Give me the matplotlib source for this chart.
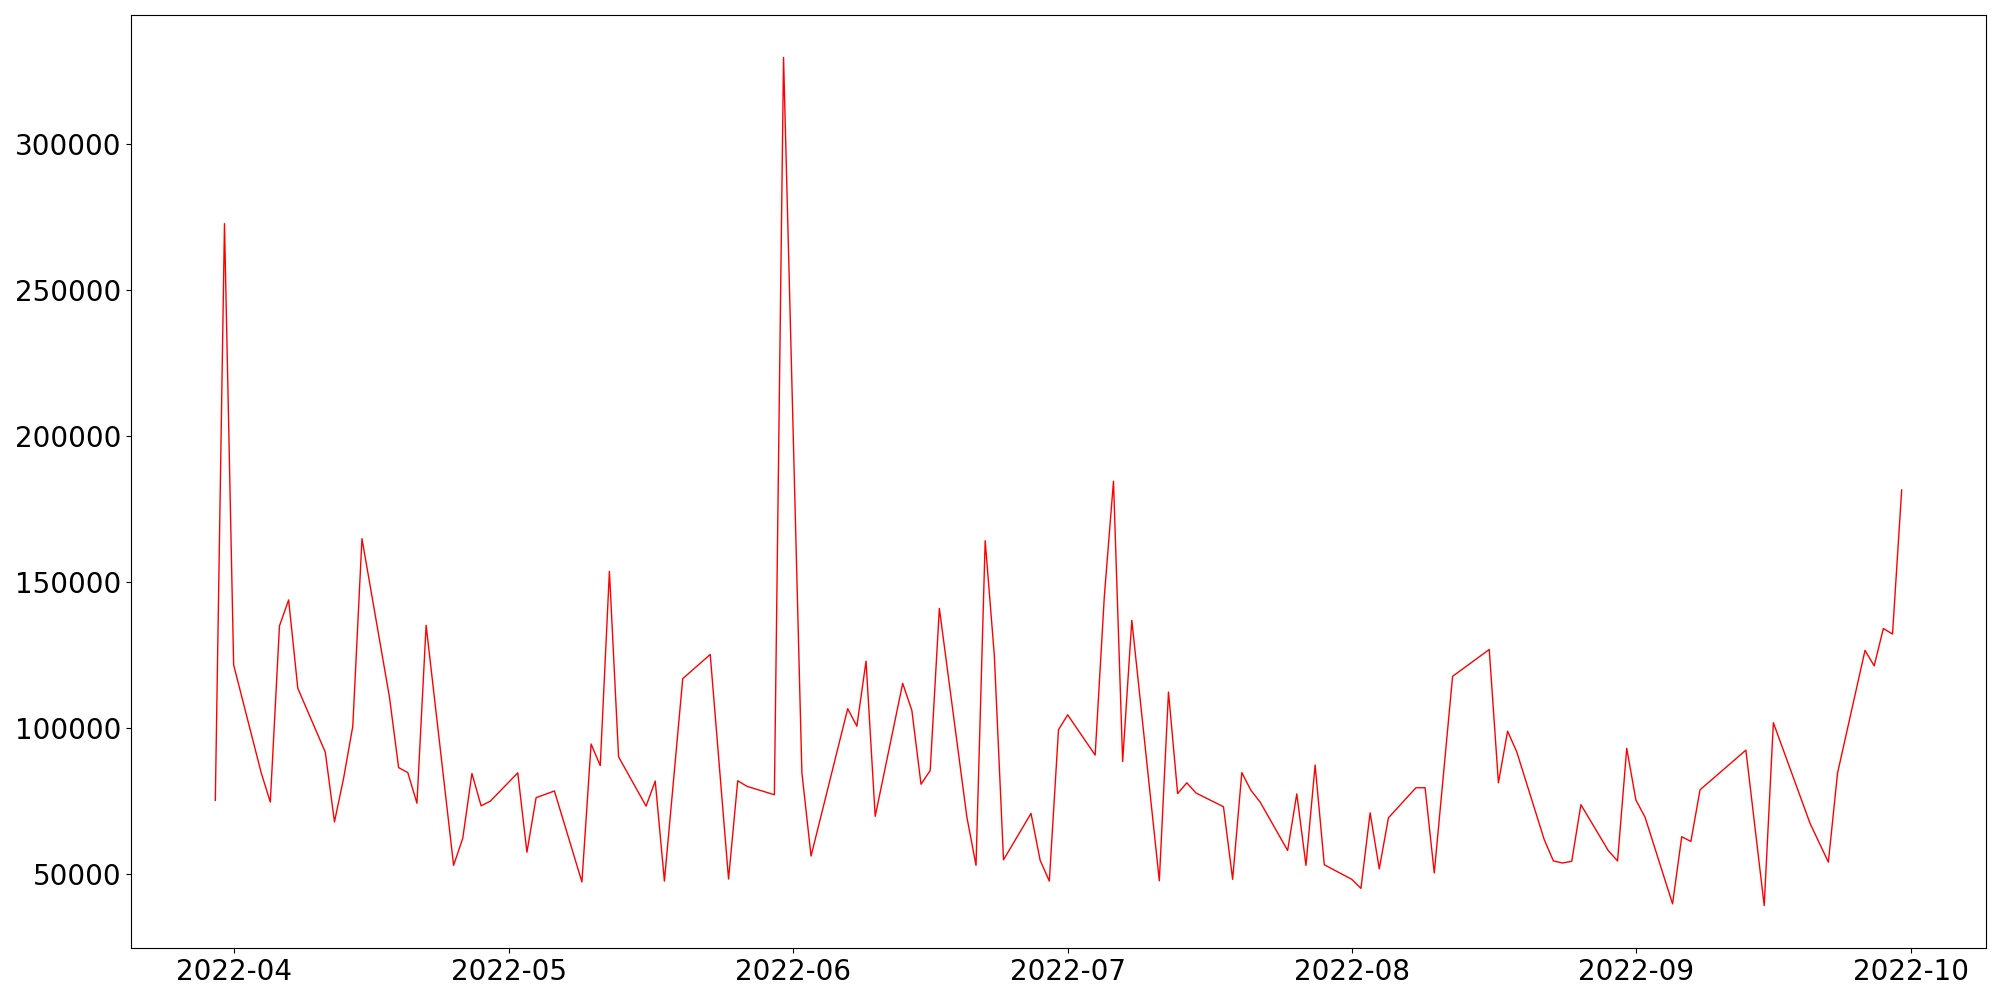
import matplotlib
matplotlib.use("Agg")
import matplotlib.pyplot as plt
import pandas as pd

dates = [
    "2022-03-30", "2022-03-31", "2022-04-01", "2022-04-04", "2022-04-05",
    "2022-04-06", "2022-04-07", "2022-04-08", "2022-04-11", "2022-04-12",
    "2022-04-13", "2022-04-14", "2022-04-15", "2022-04-18", "2022-04-19",
    "2022-04-20", "2022-04-21", "2022-04-22", "2022-04-25", "2022-04-26",
    "2022-04-27", "2022-04-28", "2022-04-29", "2022-05-02", "2022-05-03",
    "2022-05-04", "2022-05-06", "2022-05-09", "2022-05-10", "2022-05-11",
    "2022-05-12", "2022-05-13", "2022-05-16", "2022-05-17", "2022-05-18",
    "2022-05-20", "2022-05-23", "2022-05-25", "2022-05-26", "2022-05-27",
    "2022-05-30", "2022-05-31", "2022-06-02", "2022-06-03", "2022-06-07",
    "2022-06-08", "2022-06-09", "2022-06-10", "2022-06-13", "2022-06-14",
    "2022-06-15", "2022-06-16", "2022-06-17", "2022-06-20", "2022-06-21",
    "2022-06-22", "2022-06-23", "2022-06-24", "2022-06-27", "2022-06-28",
    "2022-06-29", "2022-06-30", "2022-07-01", "2022-07-04", "2022-07-05",
    "2022-07-06", "2022-07-07", "2022-07-08", "2022-07-11", "2022-07-12",
    "2022-07-13", "2022-07-14", "2022-07-15", "2022-07-18", "2022-07-19",
    "2022-07-20", "2022-07-21", "2022-07-22", "2022-07-25", "2022-07-26",
    "2022-07-27", "2022-07-28", "2022-07-29", "2022-08-01", "2022-08-02",
    "2022-08-03", "2022-08-04", "2022-08-05", "2022-08-08", "2022-08-09",
    "2022-08-10", "2022-08-12", "2022-08-16", "2022-08-17", "2022-08-18",
    "2022-08-19", "2022-08-22", "2022-08-23", "2022-08-24", "2022-08-25",
    "2022-08-26", "2022-08-29", "2022-08-30", "2022-08-31", "2022-09-01",
    "2022-09-02", "2022-09-05", "2022-09-06", "2022-09-07", "2022-09-08",
    "2022-09-13", "2022-09-15", "2022-09-16", "2022-09-20", "2022-09-22",
    "2022-09-23", "2022-09-26", "2022-09-27", "2022-09-28", "2022-09-29",
    "2022-09-30",
]

values = [
    75100, 272800, 121500, 84600, 74500,
    134900, 143800, 113500, 91600, 67700,
    82700, 100500, 164800, 110500, 86300,
    84600, 74100, 135100, 52800, 62100,
    84300, 73200, 74800, 84500, 57300,
    76000, 78300, 47100, 94400, 87000,
    153600, 90000, 73100, 81700, 47400,
    116800, 125100, 48100, 81800, 79900,
    77000, 329800, 84600, 56000, 106500,
    100500, 122800, 69600, 115200, 105900,
    80600, 85300, 140900, 69400, 52800,
    164100, 124700, 54700, 70600, 54500,
    47400, 99300, 104400, 90600, 145000,
    184500, 88400, 136800, 47500, 112200,
    77400, 81100, 77600, 72900, 48000,
    84600, 78500, 74500, 57900, 77300,
    52800, 87200, 53000, 48000, 44900,
    70800, 51600, 69100, 79400, 79400,
    50200, 117600, 126800, 81100, 98800,
    91700, 61600, 54300, 53600, 54200,
    73600, 57800, 54300, 92900, 75200,
    69300, 39600, 62600, 61000, 78700,
    92300, 39000, 101700, 67200, 53900,
    84400, 126500, 121200, 134000, 132100,
    181500,
]

x = pd.to_datetime(dates)

fig, ax = plt.subplots(figsize=(20, 10), dpi=100)
ax.plot(x, values, color="red", linewidth=1)
ax.tick_params(axis="both", labelsize=20)

plt.subplots_adjust(left=0.0655, right=0.993, bottom=0.052, top=0.985)
plt.savefig("out.png")
